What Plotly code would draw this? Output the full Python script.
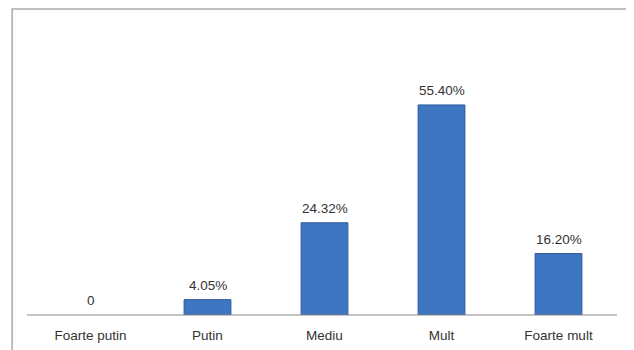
import plotly.graph_objects as go

categories = ["Foarte putin", "Putin", "Mediu", "Mult", "Foarte mult"]
values = [0, 4.05, 24.32, 55.40, 16.20]
labels = [f"{v:.2f}%" if v else "0" for v in values]

fig = go.Figure()
fig.add_trace(go.Bar(
    x=categories, y=values,
    marker=dict(color="#3e76c2",
                line=dict(color="#2d5a9a", width=[1 if v else 0 for v in values])),
    width=0.4, hoverinfo="x+y",
))

for c, v, t in zip(categories, values, labels):
    fig.add_annotation(x=c, y=v, text=t, showarrow=False, yanchor="bottom",
                       yshift=5, font=dict(family="Liberation Sans", size=13.5, color="#333"))

fig.update_layout(
    width=626, height=342,
    margin=dict(l=24, r=17, t=12, b=35),
    paper_bgcolor="white", plot_bgcolor="white",
    showlegend=False,
    font=dict(family="Liberation Sans", size=13.5, color="#333"),
    xaxis=dict(showline=False, ticks="", showgrid=False, zeroline=False,
               automargin=False,
               tickfont=dict(size=13.5, color="#333"), ticklabelstandoff=10),
    yaxis=dict(range=[0, 77.8], visible=False, showgrid=False, zeroline=False,
               automargin=False),
    shapes=[
        dict(type="line", xref="paper", yref="paper", x0=-0.0085, x1=1.0,
             y0=0, y1=0, line=dict(color="#888", width=1)),
        dict(type="rect", xref="paper", yref="paper", x0=-0.034, x1=1.2,
             y0=-0.3, y1=1.0373, line=dict(color="#aaa", width=1.5),
             fillcolor="rgba(0,0,0,0)", layer="above"),
    ],
)

fig.write_html("out.html")
